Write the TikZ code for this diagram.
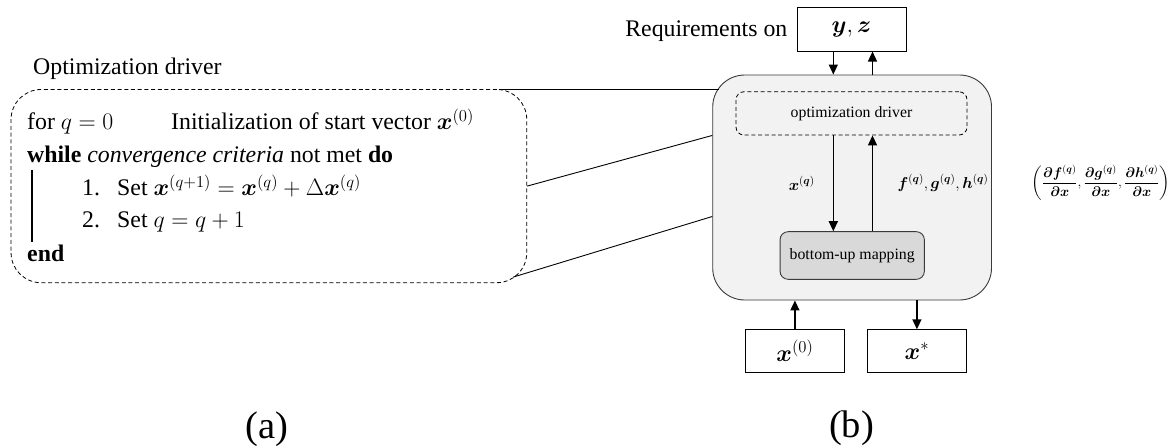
\RequirePackage{fix-cm}
\documentclass[tikz,border=0pt]{standalone}
\usepackage{amsmath}
\usepackage{bm}
\usepackage[no-math]{fontspec}
\setmainfont{Liberation Serif}
\usetikzlibrary{arrows.meta,calc}

\newcommand{\bigfont}{\fontsize{23.8}{28}\selectfont}
\newcommand{\smallfont}{\fontsize{15.8}{19}\selectfont}

\definecolor{map-fill}{HTML}{F2F2F2}
\definecolor{map-edge}{HTML}{3A3A3A}
\definecolor{bum-fill}{HTML}{D9D9D9}

\tikzstyle{alg-line}=[anchor=base west, inner sep=0pt, font=\bigfont]
\tikzstyle{alg-box}=[draw, line width=0.8pt, dash pattern=on 4pt off 2.7pt, rounded corners=30pt]
\tikzstyle{val-box}=[draw, line width=1pt, inner sep=0pt, font=\bigfont]
\tikzstyle{map-box}=[draw=map-edge, line width=0.9pt, fill=map-fill, rounded corners=32pt]
\tikzstyle{drv-box}=[draw, line width=0.8pt, dash pattern=on 4pt off 2.7pt, rounded corners=8pt, font=\smallfont]
\tikzstyle{bum-box}=[draw=map-edge, line width=0.9pt, fill=bum-fill, rounded corners=8pt, font=\smallfont]
\tikzstyle{flow}=[line width=1.4pt, -{Triangle[length=10pt,width=9pt]}]
\tikzstyle{zoom-line}=[line width=0.9pt]

\begin{document}
\begin{tikzpicture}[x=1pt, y=-1pt]
  \useasboundingbox (0,0) rectangle (1174,446);

  % (a) optimization driver as algorithm
  \node (alg:title) at (33,69) [anchor=west, inner sep=0pt, font=\bigfont] {Optimization driver};
  \node (alg) at (268.9,186.1) [alg-box, minimum width=515.7pt, minimum height=193.2pt] {};

  \node (alg:1) at (27,130) [alg-line] {for $q = 0$};
  \node (alg:1b) at (171,130) [alg-line] {Initialization of start vector $\bm{x}^{(0)}$};
  \node (alg:2) at (27,162.7) [alg-line] {\textbf{while} \textit{convergence criteria} not met \textbf{do}};
  \node (alg:3n) at (82,196) [alg-line] {1.};
  \node (alg:3) at (117,196) [alg-line] {Set $\bm{x}^{(q+1)} = \bm{x}^{(q)} + \Delta\bm{x}^{(q)}$};
  \node (alg:4n) at (82,228) [alg-line] {2.};
  \node (alg:4) at (117,228) [alg-line] {Set $q = q + 1$};
  \node (alg:5) at (27,261.7) [alg-line] {\textbf{end}};
  \draw [line width=2pt] (32,170) -- (32,241.7);

  % (b) bottom-up mapping inside the loop
  \node (map) at (852.1,187.5) [map-box, minimum width=278.8pt, minimum height=225pt] {};
  \node (drv) at (851.5,113.4) [drv-box, minimum width=231pt, minimum height=43.3pt] {optimization driver};
  \node (bum) at (852.2,255.5) [bum-box, minimum width=144.3pt, minimum height=47.6pt] {bottom-up mapping};

  \node (req) at (851.5,29.2) [val-box, minimum width=109pt, minimum height=43.7pt] {$\bm{y},\bm{z}$};
  \node (req:label) at ($(req.west)+(-9,2)$) [anchor=east, inner sep=0pt, font=\bigfont] {Requirements on};
  \node (x0) at (794.9,351) [val-box, minimum width=98.3pt, minimum height=43.4pt] {$\bm{x}^{(0)}$};
  \node (xs) at (916.9,351.3) [val-box, minimum width=98.3pt, minimum height=43pt] {$\bm{x}^{*}$};

  \draw [flow] ([xshift=-18.2pt]req.south) -- ([xshift=-18.2pt]req.south |- map.north);
  \draw [flow] ([xshift=21pt]req.south |- map.north) -- ([xshift=21pt]req.south);
  \draw [flow] ([xshift=-18.2pt]drv.south) -- ([xshift=-18.2pt]drv.south |- bum.north);
  \draw [flow] ([xshift=21pt]drv.south |- bum.north) -- ([xshift=21pt]drv.south);
  \draw [flow] (x0.north) -- (x0.north |- map.south);
  \draw [flow] (xs.north |- map.south) -- (xs.north);

  \node (lbl:x) at (801.7,183.3) [inner sep=0pt, font=\smallfont] {$\bm{x}^{(\bm{q})}$};
  \node (lbl:fgh) at (943,183) [inner sep=0pt, font=\smallfont] {$\bm{f}^{(\bm{q})},\bm{g}^{(\bm{q})},\bm{h}^{(\bm{q})}$};
  \node (lbl:grad) at (1100.8,182.7) [inner sep=0pt, font=\fontsize{14}{17}\selectfont]
    {$\left(\dfrac{\bm{\partial f}^{(\bm{q})}}{\bm{\partial x}},\dfrac{\bm{\partial g}^{(\bm{q})}}{\bm{\partial x}},\dfrac{\bm{\partial h}^{(\bm{q})}}{\bm{\partial x}}\right)$};

  % zoom lines from (a) to (b)
  \draw [zoom-line] ($(alg.north east)+(-28,0)$) -- ([xshift=7pt]map.west |- alg.north);
  \draw [zoom-line] (alg.east) -- (map.west |- drv.south);
  \draw [zoom-line] ($(alg.south east)+(-14,-6)$) -- ([yshift=-29pt]map.west);

  \node (cap:a) at (266.7,429) [inner sep=0pt, font=\fontsize{38.5}{40}\selectfont] {(a)};
  \node (cap:b) at (851.5,428) [inner sep=0pt, font=\fontsize{38.5}{40}\selectfont] {(b)};
\end{tikzpicture}
\end{document}
